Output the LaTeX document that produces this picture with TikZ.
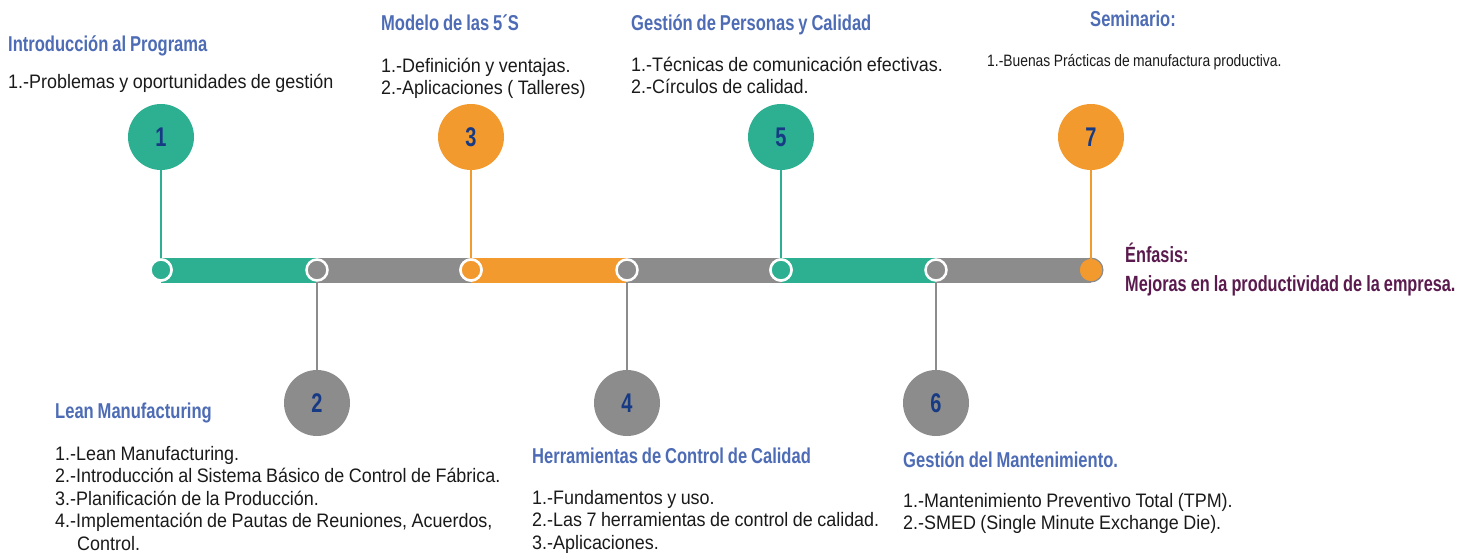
\documentclass[tikz,border=0pt]{standalone}
\usepackage{fontspec}
\setmainfont[FakeStretch=0.92,WordSpace=0.9]{Liberation Sans}
\newfontfamily\headfont[FakeStretch=0.77,WordSpace=0.85]{Liberation Sans}
\newfontfamily\emfont[FakeStretch=0.74,WordSpace=0.9]{Liberation Sans}
\newfontfamily\smallfont[FakeStretch=0.84,WordSpace=0.9]{Liberation Sans}
\definecolor{teal1}{HTML}{2DAF91}
\definecolor{orange1}{HTML}{F29A2E}
\definecolor{grey1}{HTML}{8C8C8C}
\definecolor{numblue}{HTML}{173A85}
\definecolor{headblue}{HTML}{4D6CB5}
\definecolor{purple1}{HTML}{5A1A4E}
\definecolor{txt}{HTML}{1A1A1A}
\begin{document}
\begin{tikzpicture}[x=1pt,y=-1pt,
  head/.style={anchor=base west, inner sep=0pt, font=\headfont\bfseries\fontsize{21.5}{24}\selectfont, text=headblue},
  body/.style={anchor=base west, inner sep=0pt, text width=520pt, align=flush left, font=\fontsize{19.5}{22.5}\selectfont, text=txt},
  bigdot/.style={circle, inner sep=0pt, minimum size=66pt, fill=#1, text=numblue, font=\emfont\bfseries\fontsize{27}{28}\selectfont},
  smalldot/.style={circle, inner sep=0pt, minimum size=21pt, fill=#1, draw=white, line width=2.5pt},
  stem/.style={draw=#1, line width=2.8pt},
]
\useasboundingbox (0,0) rectangle (1475,552);
% bar segments
\fill[teal1]   (161,257.5) rectangle (317,282.5);
\fill[grey1]   (317,257.5) rectangle (471,282.5);
\fill[orange1] (471,257.5) rectangle (627,282.5);
\fill[grey1]   (627,257.5) rectangle (781,282.5);
\fill[teal1]   (781,257.5) rectangle (936,282.5);
\fill[grey1]   (936,257.5) rectangle (1091,282.5);
\fill[grey1]   (1091,270) circle (12.5);
% small dots
\node[smalldot=teal1]   (s1) at (161,270) {};
\node[smalldot=grey1]   (s2) at (317,270) {};
\node[smalldot=orange1] (s3) at (471,270) {};
\node[smalldot=grey1]   (s4) at (627,270) {};
\node[smalldot=teal1]   (s5) at (781,270) {};
\node[smalldot=grey1]   (s6) at (936,270) {};
\node[smalldot=orange1, draw=none, minimum size=22pt] (s7) at (1091,270) {};
% big dots
\node[bigdot=teal1]   (b1) at (161,137) {1};
\node[bigdot=grey1]   (b2) at (317,403) {2};
\node[bigdot=orange1] (b3) at (471,137) {3};
\node[bigdot=grey1]   (b4) at (627,403) {4};
\node[bigdot=teal1]   (b5) at (781,137) {5};
\node[bigdot=grey1]   (b6) at (936,403) {6};
\node[bigdot=orange1] (b7) at (1091,137) {7};
% stems
\draw[stem=teal1]   (b1.south) -- (s1.center);
\draw[stem=grey1]   (s2.south) -- (b2.north);
\draw[stem=orange1] (b3.south) -- (s3.center);
\draw[stem=grey1]   (s4.south) -- (b4.north);
\draw[stem=teal1]   (b5.south) -- (s5.center);
\draw[stem=grey1]   (s6.south) -- (b6.north);
\draw[stem=orange1] (b7.south) -- (s7.center);
\node[smalldot=teal1]   at (s1) {};
\node[smalldot=orange1] at (s3) {};
\node[smalldot=teal1]   at (s5) {};
\node[smalldot=orange1, draw=none, minimum size=22pt] at (s7) {};
% texts top
\node[head] (h1) at (8,51) {Introducción al Programa};
\node[body] (t1) at (8,88) {1.-Problemas y oportunidades de gestión};
\node[head] (h3) at (381,30) {Modelo de las 5´S};
\node[body] (t3) at (381,72) {1.-Definición y ventajas.\\2.-Aplicaciones ( Talleres)};
\node[head] (h5) at (631,30) {Gestión de Personas y Calidad};
\node[body] (t5) at (631,71) {1.-Técnicas de comunicación efectivas.\\2.-Círculos de calidad.};
\node[head] (h7) at (1090,26) {Seminario:};
\node[body, font=\smallfont\fontsize{16.5}{18}\selectfont] (t7) at (987,66) {1.-Buenas Prácticas de manufactura productiva.};
% emphasis
\node[head, text=purple1, text width=400pt, align=flush left, font=\emfont\bfseries\fontsize{22}{29}\selectfont] (em) at (1125,262) {Énfasis:\\Mejoras en la productividad de la empresa.};
% texts bottom
\node[head] (h2) at (55,418) {Lean Manufacturing};
\node[body] (t2) at (55,460) {1.-Lean Manufacturing.\\2.-Introducción al Sistema Básico de Control de Fábrica.\\3.-Planificación de la Producción.\\4.-Implementación de Pautas de Reuniones, Acuerdos,\\\hspace*{22pt}Control.};
\node[head] (h4) at (532,463) {Herramientas de Control de Calidad};
\node[body] (t4) at (532,504) {1.-Fundamentos y uso.\\2.-Las 7 herramientas de control de calidad.\\3.-Aplicaciones.};
\node[head] (h6) at (903,467) {Gestión del Mantenimiento.};
\node[body] (t6) at (903,507) {1.-Mantenimiento Preventivo Total (TPM).\\2.-SMED (Single Minute Exchange Die).};
\end{tikzpicture}
\end{document}
